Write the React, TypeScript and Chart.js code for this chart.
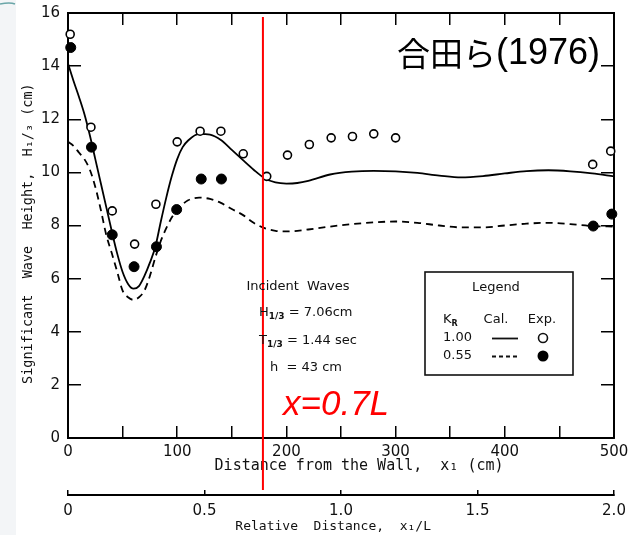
import React, { useEffect, useRef } from 'react';
import { Chart, registerables } from 'chart.js';

Chart.register(...registerables);

// Calculated curves (x in cm from the wall)
const calX = [0, 5, 10, 15, 20, 25, 30, 35, 40, 45, 50, 55, 60, 65, 70, 75, 80, 85, 90, 95, 100, 105, 110, 120, 130, 140, 150, 160, 170, 180, 190, 200, 210, 220, 240, 260, 280, 300, 320, 340, 360, 380, 400, 420, 440, 460, 480, 500];
const calK100 = [14.1, 13.45, 12.85, 12.2, 11.4, 10.5, 9.6, 8.7, 7.8, 6.95, 6.25, 5.8, 5.62, 5.72, 6.1, 6.6, 7.2, 8.15, 9.05, 9.85, 10.5, 10.95, 11.2, 11.45, 11.42, 11.22, 10.85, 10.47, 10.1, 9.78, 9.62, 9.58, 9.6, 9.68, 9.92, 10.03, 10.06, 10.04, 9.98, 9.88, 9.81, 9.86, 9.96, 10.05, 10.08, 10.04, 9.96, 9.85];
const calK055 = [11.15, 11.0, 10.75, 10.5, 10.1, 9.45, 8.6, 7.65, 6.97, 6.27, 5.55, 5.3, 5.2, 5.3, 5.55, 6.1, 6.8, 7.42, 7.9, 8.3, 8.6, 8.8, 8.95, 9.05, 9.0, 8.85, 8.62, 8.4, 8.1, 7.9, 7.8, 7.78, 7.8, 7.85, 7.96, 8.05, 8.12, 8.15, 8.1, 8.0, 7.93, 7.93, 8.0, 8.07, 8.1, 8.05, 7.98, 7.96];

// Experimental points
const expX100 = [2, 21, 40.5, 61, 80.5, 100, 121, 140, 160.5, 182, 201, 221, 241, 260.5, 280, 300, 480.5, 497];
const expY100 = [15.2, 11.7, 8.55, 7.3, 8.8, 11.15, 11.55, 11.55, 10.7, 9.85, 10.65, 11.05, 11.3, 11.35, 11.45, 11.3, 10.3, 10.8];
const expX055 = [2.5, 21.5, 40.5, 60.5, 81, 99.5, 122, 140.5, 481, 498];
const expY055 = [14.7, 10.95, 7.65, 6.45, 7.2, 8.6, 9.75, 9.75, 7.98, 8.43];

// Reference line x = 0.7L
const refLineX = [178.5, 178.5];
const refLineY = [15.85, -1.96];

// Relative distance tick labels
const relTickLabels: Record<string, string> = { '0': '0', '0.5': '0.5', '1': '1.0', '1.5': '1.5', '2': '2.0' };

type Run = { t: string; font: string; dy?: number };

function drawRuns(ctx: CanvasRenderingContext2D, runs: Run[], x: number, y: number, align: 'left' | 'center' | 'right') {
  let total = 0;
  const widths: number[] = [];
  for (const r of runs) {
    ctx.font = r.font;
    const w = ctx.measureText(r.t).width;
    widths.push(w);
    total += w;
  }
  let cx = align === 'left' ? x : align === 'center' ? x - total / 2 : x - total;
  ctx.textAlign = 'left';
  ctx.textBaseline = 'middle';
  runs.forEach((r, i) => {
    ctx.font = r.font;
    ctx.fillText(r.t, cx, y + (r.dy || 0));
    cx += widths[i];
  });
}

const annotPlugin = {
  id: 'annot',
  beforeDraw(chart: any) {
    const ctx = chart.ctx as CanvasRenderingContext2D;
    ctx.save();
    ctx.fillStyle = '#ffffff';
    ctx.fillRect(0, 0, chart.width, chart.height);
    ctx.fillStyle = '#f3f5f7';
    ctx.fillRect(0, 0, 16, chart.height);
    ctx.strokeStyle = '#6aa6a8';
    ctx.lineWidth = 1.5;
    ctx.beginPath();
    ctx.moveTo(0, 4);
    ctx.quadraticCurveTo(10, 2, 15, 4);
    ctx.stroke();
    ctx.restore();
  },
  afterDraw(chart: any) {
    const ctx = chart.ctx as CanvasRenderingContext2D;
    ctx.save();
    ctx.fillStyle = '#111';
    const f = (s: number) => `${s}px "DejaVu Sans"`;

    // Incident waves block
    drawRuns(ctx, [{ t: 'Incident  Waves', font: f(13) }], 298, 287, 'center');
    drawRuns(ctx, [
      { t: 'H', font: f(13) },
      { t: '1/3', font: `bold 9px "DejaVu Sans"`, dy: 4 },
      { t: ' = 7.06cm', font: f(13) },
    ], 259, 313, 'left');
    drawRuns(ctx, [
      { t: 'T', font: f(13) },
      { t: '1/3', font: `bold 9px "DejaVu Sans"`, dy: 4 },
      { t: ' = 1.44 sec', font: f(13) },
    ], 259, 341, 'left');
    drawRuns(ctx, [{ t: 'h  = 43 cm', font: f(13) }], 270, 368, 'left');

    // Legend box
    ctx.strokeStyle = '#111';
    ctx.lineWidth = 1.6;
    ctx.strokeRect(425, 272, 148, 103);
    drawRuns(ctx, [{ t: 'Legend', font: f(13) }], 496, 288, 'center');
    drawRuns(ctx, [{ t: 'K', font: f(13) }, { t: 'R', font: `bold 8px "DejaVu Sans"`, dy: 4 }], 443, 320, 'left');
    drawRuns(ctx, [{ t: 'Cal.', font: f(13) }], 496, 320, 'center');
    drawRuns(ctx, [{ t: 'Exp.', font: f(13) }], 542, 320, 'center');
    drawRuns(ctx, [{ t: '1.00', font: f(13) }], 443, 338, 'left');
    drawRuns(ctx, [{ t: '0.55', font: f(13) }], 443, 356, 'left');
    ctx.lineWidth = 1.8;
    ctx.beginPath();
    ctx.moveTo(492, 338.5);
    ctx.lineTo(518, 338.5);
    ctx.stroke();
    ctx.setLineDash([4, 3]);
    ctx.beginPath();
    ctx.moveTo(492, 356.5);
    ctx.lineTo(518, 356.5);
    ctx.stroke();
    ctx.setLineDash([]);
    ctx.lineWidth = 1.6;
    ctx.beginPath();
    ctx.arc(543, 338, 4.5, 0, Math.PI * 2);
    ctx.fillStyle = '#fff';
    ctx.fill();
    ctx.stroke();
    ctx.beginPath();
    ctx.arc(543, 356, 5.5, 0, Math.PI * 2);
    ctx.fillStyle = '#000';
    ctx.fill();

    // Source label
    ctx.fillStyle = '#000';
    drawRuns(ctx, [
      { t: '合田ら', font: '33px "Noto Sans CJK JP"' },
      { t: '(1976)', font: '36px "Liberation Sans"', dy: 1 },
    ], 600, 53, 'right');

    // x = 0.7L label
    ctx.fillStyle = '#ff0000';
    drawRuns(ctx, [{ t: 'x=0.7L', font: 'italic 35px "Liberation Sans"' }], 283, 405, 'left');
    ctx.restore();
  },
};

export default function App() {
  const ref = useRef<HTMLCanvasElement | null>(null);

  useEffect(() => {
    if (!ref.current) return;
    const black = '#000';
    const tickFont = { family: 'DejaVu Sans', size: 15 };
    const chart = new Chart(ref.current, {
      type: 'line',
      data: {
        datasets: [
          {
            type: 'line',
            label: 'x=0.7L',
            data: refLineX.map((x, i) => ({ x, y: refLineY[i] })),
            borderColor: '#ff0000',
            borderWidth: 2,
            pointRadius: 0,
            clip: false as any,
            order: -1,
            xAxisID: 'x',
            yAxisID: 'y',
          },
          {
            type: 'scatter',
            label: 'Exp. KR=1.00',
            data: expX100.map((x, i) => ({ x, y: expY100[i] })),
            pointRadius: 4,
            pointBackgroundColor: '#fff',
            pointBorderColor: '#000',
            pointBorderWidth: 1.6,
            showLine: false,
            order: 0,
            clip: false as any,
            xAxisID: 'x',
            yAxisID: 'y',
          },
          {
            type: 'scatter',
            label: 'Exp. KR=0.55',
            data: expX055.map((x, i) => ({ x, y: expY055[i] })),
            pointRadius: 5,
            pointBackgroundColor: '#000',
            pointBorderColor: '#000',
            pointBorderWidth: 1,
            showLine: false,
            order: 0,
            clip: false as any,
            xAxisID: 'x',
            yAxisID: 'y',
          },
          {
            type: 'line',
            label: 'Cal. KR=1.00',
            data: calX.map((x, i) => ({ x, y: calK100[i] })),
            borderColor: '#000',
            borderWidth: 1.8,
            pointRadius: 0,
            cubicInterpolationMode: 'monotone',
            order: 1,
            xAxisID: 'x',
            yAxisID: 'y',
          },
          {
            type: 'line',
            label: 'Cal. KR=0.55',
            data: calX.map((x, i) => ({ x, y: calK055[i] })),
            borderColor: '#000',
            borderWidth: 1.8,
            borderDash: [7, 5],
            pointRadius: 0,
            cubicInterpolationMode: 'monotone',
            order: 1,
            xAxisID: 'x',
            yAxisID: 'y',
          },
        ],
      },
      options: {
        animation: false,
        responsive: true,
        maintainAspectRatio: false,
        devicePixelRatio: 1,
        layout: { padding: 0 },
        plugins: { legend: { display: false }, tooltip: { enabled: false } },
        scales: {
          x: {
            type: 'linear',
            position: 'bottom',
            weight: 0,
            min: 0,
            max: 500,
            ticks: {
              stepSize: 50,
              autoSkip: false,
              maxRotation: 0,
              padding: 17,
              color: '#111',
              font: tickFont,
              callback: (v: any) => (Number(v) % 100 === 0 ? String(v) : ''),
            },
            grid: { drawOnChartArea: false, drawTicks: true, tickLength: -12, color: black, lineWidth: 1.5 },
            border: { display: true, color: black, width: 2 },
            title: {
              display: true,
              text: '    Distance from the Wall,  x₁ (cm)',
              color: '#111',
              font: { family: 'DejaVu Sans Mono', size: 15 },
              padding: { top: 0, bottom: 20 },
            },
            afterFit: (s: any) => { s.height = 57; s.paddingLeft = 0; s.paddingRight = 0; },
          },
          x2: {
            type: 'linear',
            position: 'bottom',
            weight: 1,
            min: 0,
            max: 2,
            ticks: {
              stepSize: 0.5,
              autoSkip: false,
              maxRotation: 0,
              padding: 12,
              color: '#111',
              font: tickFont,
              callback: (v: any) => relTickLabels[String(v)] ?? '',
            },
            grid: { drawOnChartArea: false, drawTicks: true, tickLength: -5, color: black, lineWidth: 1.5 },
            border: { display: true, color: black, width: 2 },
            title: {
              display: true,
              text: 'Relative  Distance,  x₁/L  ',
              color: '#111',
              font: { family: 'DejaVu Sans Mono', size: 13 },
              padding: { top: 0, bottom: 1 },
            },
            afterFit: (s: any) => { s.height = 40; s.paddingLeft = 0; s.paddingRight = 0; },
          },
          xTop: {
            type: 'linear',
            position: 'top',
            min: 0,
            max: 500,
            ticks: { stepSize: 50, display: false, autoSkip: false },
            grid: { drawOnChartArea: false, drawTicks: true, tickLength: -12, color: black, lineWidth: 1.5 },
            border: { display: true, color: black, width: 2 },
            afterFit: (s: any) => { s.height = 13; s.paddingLeft = 0; s.paddingRight = 0; },
          },
          y: {
            type: 'linear',
            position: 'left',
            min: 0,
            max: 16,
            ticks: {
              stepSize: 2,
              padding: 21,
              color: '#111',
              font: tickFont,
            },
            grid: { drawOnChartArea: false, drawTicks: true, tickLength: -13, color: black, lineWidth: 1.5 },
            border: { display: true, color: black, width: 2 },
            title: {
              display: true,
              text: 'Significant  Wave  Height,  H₁/₃ (cm)  ',
              color: '#111',
              font: { family: 'DejaVu Sans Mono', size: 13.5 },
              padding: { top: 20, bottom: 0 },
            },
            afterFit: (s: any) => { s.width = 68; s.paddingTop = 0; s.paddingBottom = 0; },
          },
          yRight: {
            type: 'linear',
            position: 'right',
            min: 0,
            max: 16,
            ticks: { stepSize: 2, display: false },
            grid: { drawOnChartArea: false, drawTicks: true, tickLength: -13, color: black, lineWidth: 1.5 },
            border: { display: true, color: black, width: 2 },
            afterFit: (s: any) => { s.width = 15; s.paddingTop = 0; s.paddingBottom = 0; },
          },
        },
      } as any,
      plugins: [annotPlugin],
    });
    return () => chart.destroy();
  }, []);

  return (
    <div style={{ position: 'absolute', left: 0, top: 0, width: 629, height: 535 }}>
      <canvas ref={ref} />
    </div>
  );
}
